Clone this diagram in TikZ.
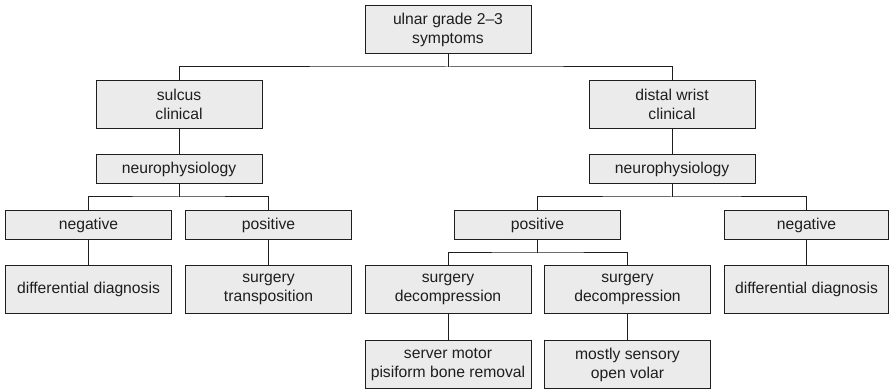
\documentclass[tikz,border=0pt]{standalone}
\usepackage{fontspec}
\setmainfont{Liberation Sans}
\definecolor{boxfill}{HTML}{EBEBEB}
\definecolor{boxline}{HTML}{1E1E1E}
\begin{document}
\begin{tikzpicture}[x=1pt,y=-1pt,
  box/.style={draw=boxline,fill=boxfill,line width=1pt,inner sep=0pt,outer sep=0pt,
    minimum width=166pt,align=center,text=boxline,
    font=\fontsize{15.7}{19}\selectfont},
  tall/.style={box,minimum height=48pt},
  short/.style={box,minimum height=29pt},
  link/.style={draw=boxline,line width=1pt}]
\useasboundingbox (0,0) rectangle (889,390);
\node[tall]  (top)    at (448,30)     {ulnar grade 2--3\\symptoms};
\node[tall]  (sulcus) at (179,104.5)  {sulcus\\clinical};
\node[short] (neurL)  at (179,169.5)  {neurophysiology};
\node[short] (negL)   at (88.5,225)   {negative};
\node[short] (posL)   at (268.5,225)  {positive};
\node[tall]  (diffL)  at (88.5,289.5) {differential diagnosis};
\node[tall]  (surgT)  at (268.5,289.5){surgery\\transposition};
\node[tall]  (distal) at (672,104.5)  {distal wrist\\clinical};
\node[short] (neurR)  at (672,169.5)  {neurophysiology};
\node[short] (posR)   at (537.5,225)  {positive};
\node[short,minimum width=164pt] (negR) at (806.5,225) {negative};
\node[tall]  (decA)   at (448,289.5)  {surgery\\decompression};
\node[tall]  (decB)   at (627.5,289.5){surgery\\decompression};
\node[tall,minimum width=164pt] (diffR) at (806.5,289.5) {differential diagnosis};
\node[tall]  (server) at (448,364.5)  {server motor\\pisiform bone removal};
\node[tall]  (sens)   at (627.5,364.5){mostly sensory\\open volar};
\coordinate (j1) at (448,67);
\coordinate (j2) at (179,197);
\coordinate (j3) at (672,197);
\coordinate (j4) at (537.5,253);
\draw[link] (top.south) -- (j1);
\draw[link] (sulcus.north) |- (j1) -| (distal.north);
\draw[link] (sulcus.south) -- (neurL.north);
\draw[link] (distal.south) -- (neurR.north);
\draw[link] (neurL.south) -- (j2);
\draw[link] (negL.north) |- (j2) -| (posL.north);
\draw[link] (neurR.south) -- (j3);
\draw[link] (posR.north) |- (j3) -| (negR.north);
\draw[link] (negL.south) -- (diffL.north);
\draw[link] (posL.south) -- (surgT.north);
\draw[link] (negR.south) -- (diffR.north);
\draw[link] (posR.south) -- (j4);
\draw[link] (decA.north) |- (j4) -| (decB.north);
\draw[link] (decA.south) -- (server.north);
\draw[link] (decB.south) -- (sens.north);
\end{tikzpicture}
\end{document}
